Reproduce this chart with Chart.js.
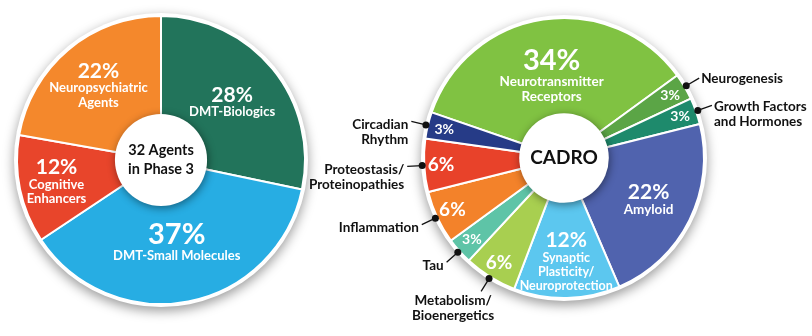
<!DOCTYPE html>
<html>
<head>
<meta charset="utf-8">
<script src="https://cdn.jsdelivr.net/npm/chart.js@4.4.0/dist/chart.umd.min.js"></script>
<style>
  html, body { margin: 0; padding: 0; background: #fff; }
  body { width: 812px; height: 336px; position: relative; overflow: hidden; }
  canvas { position: absolute; top: 0; }
  #phase3 { left: 0; }
  #cadro { left: 300px; }
</style>
</head>
<body>
<canvas id="phase3" width="330" height="336"></canvas>
<canvas id="cadro" width="512" height="336"></canvas>
<script>
// Agents in phase 3, by broad class
const phaseLabels = [["DMT-Biologics"], ["DMT-Small Molecules"], ["Cognitive", "Enhancers"], ["Neuropsychiatric", "Agents"]];
const phaseValues = [28, 37, 12, 22];
const phaseColors = ["#22745b", "#27ade3", "#e8452b", "#f4882c"];

// CADRO categories
const cadroLabels = [
  ["Neurotransmitter", "Receptors"],
  ["Neurogenesis"],
  ["Growth Factors", "and Hormones"],
  ["Amyloid"],
  ["Synaptic", "Plasticity/", "Neuroprotection"],
  ["Metabolism/", "Bioenergetics"],
  ["Tau"],
  ["Inflammation"],
  ["Proteostasis/", "Proteinopathies"],
  ["Circadian", "Rhythm"]
];
const cadroValues = [34, 3, 3, 22, 12, 6, 3, 6, 6, 3];
const cadroColors = ["#80c242", "#5ba546", "#1e8a6c", "#5063ae", "#5cc7ef", "#a8cf50", "#5ec4a7", "#f3822a", "#e8422a", "#263b87"];

const FONT = "Lato, 'Open Sans', sans-serif";

function pctSize(v) {
  if (v >= 30) return 29;
  if (v >= 10) return 21;
  if (v >= 5) return 19;
  return 14;
}

// draws the shadowed backdrop, the white hub and all the text
const pieDecor = {
  id: "pieDecor",
  beforeDatasetsDraw(chart) {
    const a = chart.getDatasetMeta(0).data[0];
    const ctx = chart.ctx;
    ctx.save();
    ctx.shadowColor = "rgba(0,0,0,0.4)";
    ctx.shadowBlur = 12;
    ctx.shadowOffsetY = 4;
    ctx.fillStyle = "#fff";
    ctx.beginPath();
    ctx.arc(a.x, a.y, a.outerRadius + 3, 0, Math.PI * 2);
    ctx.fill();
    ctx.restore();
  },
  afterDatasetsDraw(chart, args, opts) {
    const meta = chart.getDatasetMeta(0);
    const values = chart.data.datasets[0].data;
    const sum = values.reduce((s, v) => s + v, 0);
    const ctx = chart.ctx;
    const a0 = meta.data[0];
    const cx = a0.x, cy = a0.y, R = a0.outerRadius;

    // white hub
    ctx.save();
    ctx.shadowColor = "rgba(0,0,0,0.45)";
    ctx.shadowBlur = 8;
    ctx.shadowOffsetX = 1;
    ctx.shadowOffsetY = 2;
    ctx.fillStyle = "#fff";
    ctx.beginPath();
    ctx.arc(cx, cy, R * opts.hole, 0, Math.PI * 2);
    ctx.fill();
    ctx.restore();

    ctx.save();
    ctx.textAlign = "center";
    ctx.textBaseline = "middle";
    ctx.fillStyle = "#111";
    ctx.font = `bold ${opts.centerSize}px ${FONT}`;
    const clh = opts.centerSize * 1.3;
    opts.centerText.forEach((t, i) => {
      ctx.fillText(t, cx, cy + (i - (opts.centerText.length - 1) / 2) * clh);
    });

    meta.data.forEach((arc, i) => {
      const v = values[i];
      const lines = chart.data.labels[i];
      const mid = (arc.startAngle + arc.endAngle) / 2;
      const cos = Math.cos(mid), sin = Math.sin(mid);
      const small = v < 10;
      const ps = pctSize(v);
      const inner = small ? [] : lines;
      const ns = inner.length > 2 ? opts.nameSize - 1 : opts.nameSize;
      const hs = [ps * 0.95].concat(inner.map(() => ns * 1.12));
      const total = hs.reduce((s, h) => s + h, 0);
      // wide slices keep their text nearer the hub
      const r = R * (small ? 0.88 : 0.82 - 0.65 * v / sum);
      const bx = cx + cos * r, by = cy + sin * r;

      ctx.textAlign = "center";
      ctx.textBaseline = "middle";
      ctx.fillStyle = "#fff";
      let y = by - total / 2;
      ctx.font = `bold ${ps}px ${FONT}`;
      ctx.fillText(v + "%", bx, y + hs[0] / 2);
      y += hs[0];
      ctx.font = `bold ${ns}px ${FONT}`;
      inner.forEach((t, k) => {
        ctx.fillText(t, bx, y + hs[k + 1] / 2);
        y += hs[k + 1];
      });

      if (small) {
        // leader line with dot, name outside
        const px = cx + cos * (R + 2), py = cy + sin * (R + 2);
        const ex = cx + cos * (R + 17), ey = cy + sin * (R + 17);
        ctx.strokeStyle = "#111";
        ctx.lineWidth = 1.3;
        ctx.beginPath();
        ctx.moveTo(px, py);
        ctx.lineTo(ex, ey);
        ctx.stroke();
        ctx.fillStyle = "#111";
        ctx.beginPath();
        ctx.arc(px, py, 3.5, 0, Math.PI * 2);
        ctx.fill();

        ctx.font = `bold 13.5px ${FONT}`;
        if (Math.abs(sin) > Math.abs(cos)) {
          ctx.textAlign = "center";
          ctx.textBaseline = "top";
          lines.forEach((t, k) => ctx.fillText(t, ex - 28, ey + 3 + k * 15));
        } else {
          ctx.textAlign = cos > 0 ? "left" : "right";
          ctx.textBaseline = "middle";
          const tx = ex + (cos > 0 ? 2 : -3);
          const dy = cos > 0 ? 1 : 3;
          lines.forEach((t, k) => ctx.fillText(t, tx, ey + dy + k * 15));
        }
      }
    });
    ctx.restore();
  }
};

function makePie(id, labels, values, colors, rotation, padding, decor) {
  return new Chart(document.getElementById(id), {
    type: "pie",
    data: {
      labels: labels,
      datasets: [{
        data: values,
        backgroundColor: colors,
        borderColor: "#fff",
        borderWidth: 2
      }]
    },
    options: {
      responsive: false,
      animation: false,
      rotation: rotation,
      layout: { padding: padding },
      events: [],
      plugins: {
        legend: { display: false },
        tooltip: { enabled: false },
        pieDecor: decor
      }
    },
    plugins: [pieDecor]
  });
}

makePie("phase3", phaseLabels, phaseValues, phaseColors, 0,
  { left: 16, right: 24, top: 15, bottom: 31 },
  { hole: 0.32, centerText: ["32 Agents", "in Phase 3"], centerSize: 14.5, nameSize: 13 });

makePie("cadro", cadroLabels, cadroValues, cadroColors, -71,
  { left: 122, right: 106, top: 17, bottom: 37 },
  { hole: 0.32, centerText: ["CADRO"], centerSize: 19, nameSize: 13.5 });
</script>
</body>
</html>
